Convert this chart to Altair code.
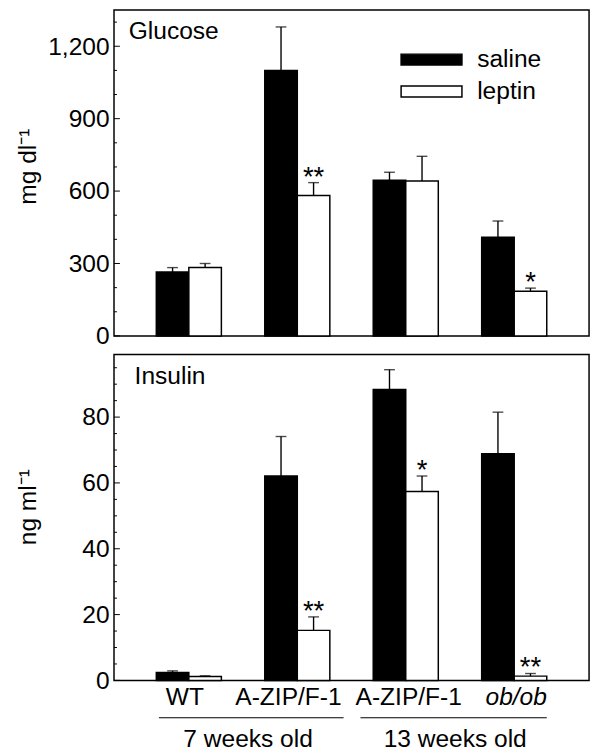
import altair as alt
import pandas as pd

FONT = "Liberation Sans"

# ---- data ----
groups = ["WT", "A-ZIP/F-1 (7 wk)", "A-ZIP/F-1 (13 wk)", "ob/ob"]
treatments = ["saline", "leptin"]

glucose_saline = [265, 1100, 645, 409]
glucose_saline_err = [18, 180, 33, 67]
glucose_leptin = [283, 582, 642, 185]
glucose_leptin_err = [17, 53, 102, 13]
glucose_leptin_sig = ["", "**", "", "*"]

insulin_saline = [2.4, 62.1, 88.4, 68.9]
insulin_saline_err = [0.5, 12.0, 6.0, 12.6]
insulin_leptin = [1.2, 15.2, 57.4, 1.3]
insulin_leptin_err = [0.2, 4.1, 4.7, 0.8]
insulin_leptin_sig = ["", "**", "*", "**"]

glucose_major = [0, 300, 600, 900, 1200]
glucose_minor = [100, 200, 400, 500, 700, 800, 1000, 1100, 1300]
insulin_major = [0, 20, 40, 60, 80]
insulin_minor = [5, 10, 15, 25, 30, 35, 45, 50, 55, 65, 70, 75, 85, 90, 95]

ages = ["7 weeks old", "13 weeks old"]

W, H = 484, 332


def make_df(s, se, l, le, sig):
    rows = []
    for i, g in enumerate(groups):
        rows.append({"group": g, "treatment": "saline", "value": s[i], "err": se[i], "sig": ""})
        rows.append({"group": g, "treatment": "leptin", "value": l[i], "err": le[i], "sig": sig[i]})
    df = pd.DataFrame(rows)
    df["top"] = df["value"] + df["err"]
    return df


xscale = alt.Scale(domain=groups, paddingInner=0.4, paddingOuter=0.39)
xoff = alt.XOffset("treatment:N", sort=treatments,
                   scale=alt.Scale(domain=treatments, paddingInner=0, paddingOuter=0))

xaxis_bottom = alt.Axis(
    title=None, labelExpr="split(datum.label, ' (')[0]",
    labelFontStyle={"condition": {"test": "datum.value == 'ob/ob'", "value": "italic"}, "value": "normal"},
    labelOffset={"condition": [
        {"test": "datum.value == 'WT'", "value": -4},
        {"test": "datum.value == 'A-ZIP/F-1 (7 wk)'", "value": -9},
        {"test": "datum.value == 'A-ZIP/F-1 (13 wk)'", "value": 3}], "value": 2},
    labelPadding=5, labelAngle=0, labelBaseline="top")


def panel(df, ymax, major, minor, ytitle, title_y, label, label_x, xaxis, legend):
    yscale = alt.Scale(domain=[0, ymax], nice=False, zero=True)
    yaxis = alt.Axis(title=ytitle, values=major, labelExpr="format(datum.value, ',')", labelPadding=5,
                     titleX=-80, titleY=title_y, titleAlign="center", titleAngle=-90,
                     titleBaseline="alphabetic")
    x_main = alt.X("group:N", sort=groups, scale=xscale, axis=xaxis)
    base = alt.Chart(df)
    bars = base.mark_bar(stroke="black", strokeWidth=1.5).encode(
        x=x_main, xOffset=xoff,
        y=alt.Y("value:Q", scale=yscale, axis=yaxis),
        fill=alt.Fill("treatment:N", scale=alt.Scale(domain=treatments, range=["black", "white"]),
                      legend=legend),
    )
    err = base.mark_rule(color="black", strokeWidth=1.4).encode(
        x=x_main, xOffset=xoff,
        y=alt.Y("value:Q", scale=yscale, axis=yaxis), y2="top:Q",
    )
    caps = base.mark_tick(color="black", thickness=1.4, size=11).encode(
        x=x_main, xOffset=xoff,
        y=alt.Y("top:Q", scale=yscale, axis=yaxis),
    )
    stars = base.mark_text(font=FONT, fontSize=28, baseline="alphabetic", dy=3, color="black").encode(
        x=x_main, xOffset=xoff,
        y=alt.Y("top:Q", scale=yscale, axis=yaxis),
        text="sig:N",
    )
    major_t = alt.Chart(pd.DataFrame({"v": major})).mark_rule(color="black", strokeWidth=1).encode(
        y=alt.Y("v:Q", scale=yscale, axis=yaxis), x=alt.value(0), x2=alt.value(6))
    minor_t = alt.Chart(pd.DataFrame({"v": minor})).mark_rule(color="black", strokeWidth=1).encode(
        y=alt.Y("v:Q", scale=yscale, axis=yaxis), x=alt.value(0), x2=alt.value(3))
    name = alt.Chart(pd.DataFrame({"t": [label]})).mark_text(
        font=FONT, fontSize=25, align="left", baseline="alphabetic", color="black").encode(
        x=alt.value(label_x), y=alt.value(30), text="t:N")
    return [bars, err, caps, stars, major_t, minor_t, name]


gdf = make_df(glucose_saline, glucose_saline_err, glucose_leptin, glucose_leptin_err, glucose_leptin_sig)
idf = make_df(insulin_saline, insulin_saline_err, insulin_leptin, insulin_leptin_err, insulin_leptin_sig)

legend = alt.Legend(title=None, orient="none", legendX=311, legendY=38,
                    symbolType="M-3,-0.54H3V0.54H-3Z", symbolSize=427,
                    symbolStrokeColor="black", symbolStrokeWidth=1.5, symbolOpacity=1,
                    labelFont=FONT, labelFontSize=25, labelColor="black", labelOffset=34,
                    rowPadding=6.5, padding=0)

top_layers = panel(gdf, 1350, glucose_major, glucose_minor, "mg dl\u207b\u00b9", 159, "Glucose", 15, None, legend)
bot_layers = panel(idf, 99, insulin_major, insulin_minor, "ng ml\u207b\u00b9", 155, "Insulin", 21, xaxis_bottom, None)

# age brackets under the x axis
age1 = pd.DataFrame({"g0": [groups[0]], "g1": [groups[1]], "t": [ages[0]]})
age2 = pd.DataFrame({"g0": [groups[2]], "g1": [groups[3]], "t": [ages[1]]})
line1 = alt.Chart(age1).mark_rule(color="black", strokeWidth=1.2, x2Offset=14).encode(
    x=alt.X("g0:N", scale=xscale, axis=xaxis_bottom, bandPosition=0.04),
    x2=alt.X2("g1:N", bandPosition=1.0), y=alt.value(H + 38))
line2 = alt.Chart(age2).mark_rule(color="black", strokeWidth=1.2, xOffset=-13).encode(
    x=alt.X("g0:N", scale=xscale, axis=xaxis_bottom, bandPosition=0),
    x2=alt.X2("g1:N", bandPosition=1.0), y=alt.value(H + 38))
text1 = alt.Chart(age1).mark_text(font=FONT, fontSize=25, baseline="alphabetic", color="black", dx=-17).encode(
    x=alt.X("g1:N", scale=xscale, axis=xaxis_bottom, bandPosition=0), y=alt.value(H + 68), text="t:N")
text2 = alt.Chart(age2).mark_text(font=FONT, fontSize=25, baseline="alphabetic", color="black", dx=-27).encode(
    x=alt.X("g1:N", scale=xscale, axis=xaxis_bottom, bandPosition=0), y=alt.value(H + 68), text="t:N")

top = alt.layer(*top_layers).properties(width=W, height=H)
bottom = alt.layer(*bot_layers, line1, line2, text1, text2).properties(width=W, height=H)

chart = alt.vconcat(top, bottom, spacing=0).resolve_scale(fill="independent").resolve_legend(
    fill="independent").properties(
    padding={"left": 7, "top": -8, "right": 2, "bottom": 0}
).configure_view(stroke="black", strokeWidth=1.5).configure_axis(
    labelFont=FONT, labelFontSize=25, labelColor="black",
    titleFont=FONT, titleFontSize=25, titleFontWeight="normal", titleColor="black",
    domain=False, grid=False, ticks=False, tickSize=0,
).configure_text(font=FONT)

chart.save("out.html", embed_options={"renderer": "svg", "actions": False})
